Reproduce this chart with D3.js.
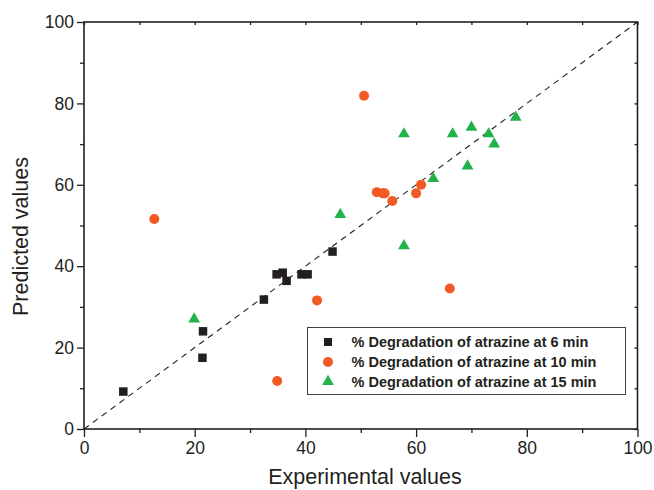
<!DOCTYPE html>
<html>
<head>
<meta charset="utf-8">
<script src="https://cdn.jsdelivr.net/npm/d3@7"></script>
<style>
  body { margin: 0; background: #fff; }
  svg { font-family: "Liberation Sans", Arial, sans-serif; }
</style>
</head>
<body>
<svg id="chart" width="654" height="490"></svg>
<script>
// Datos: valores experimentales (x) y predichos (y) por tiempo de degradación
const exp6 = [7.1, 21.5, 21.4, 32.5, 34.8, 35.9, 36.6, 39.3, 40.4, 44.9];
const pred6 = [9.2, 24.0, 17.5, 31.8, 38.0, 38.4, 36.4, 38.0, 38.0, 43.6];

const exp10 = [12.7, 50.6, 52.9, 54.0, 54.3, 55.7, 60.0, 60.9, 66.1, 42.1, 34.9];
const pred10 = [51.6, 81.9, 58.2, 57.9, 57.9, 56.0, 57.9, 60.0, 34.5, 31.6, 11.8];

const exp15 = [19.9, 46.3, 57.8, 57.8, 63.1, 66.6, 70.0, 69.3, 73.1, 74.1, 78.0];
const pred15 = [27.0, 52.7, 72.5, 45.0, 61.5, 72.5, 74.1, 64.6, 72.5, 70.0, 76.6];

const seriesNames = [
  '% Degradation of atrazine at 6 min',
  '% Degradation of atrazine at 10 min',
  '% Degradation of atrazine at 15 min'
];
const majorTicks = [0, 20, 40, 60, 80, 100];
const minorTicks = [10, 30, 50, 70, 90];

const svg = d3.select('#chart');
const width = +svg.attr('width');
const height = +svg.attr('height');
const margin = { top: 22, right: 16.5, bottom: 61, left: 84 };

const x = d3.scaleLinear().domain([0, 100]).range([margin.left, width - margin.right]);
const y = d3.scaleLinear().domain([0, 100]).range([height - margin.bottom, margin.top]);

const axisColor = '#231f20';

// Línea de referencia y = x (discontinua)
svg.append('line')
  .attr('x1', x(0)).attr('y1', y(0))
  .attr('x2', x(100)).attr('y2', y(100))
  .attr('stroke', '#222')
  .attr('stroke-width', 1.1)
  .attr('stroke-dasharray', '6,5');

// Ejes principales
const axBottom = svg.append('g')
  .attr('transform', `translate(0,${y(0)})`)
  .call(d3.axisBottom(x).tickValues(majorTicks).tickSize(8).tickPadding(5));
const axBottomMinor = svg.append('g')
  .attr('transform', `translate(0,${y(0)})`)
  .call(d3.axisBottom(x).tickValues(minorTicks).tickSize(4).tickFormat(''));
const axLeft = svg.append('g')
  .attr('transform', `translate(${x(0)},0)`)
  .call(d3.axisLeft(y).tickValues(majorTicks).tickSize(7).tickPadding(3));
const axLeftMinor = svg.append('g')
  .attr('transform', `translate(${x(0)},0)`)
  .call(d3.axisLeft(y).tickValues(minorTicks).tickSize(4).tickFormat(''));
const axTop = svg.append('g')
  .attr('transform', `translate(0,${y(100)})`)
  .call(d3.axisBottom(x).tickValues(majorTicks.concat(minorTicks)).tickSize(3).tickFormat(''));
const axRight = svg.append('g')
  .attr('transform', `translate(${x(100)},0)`)
  .call(d3.axisLeft(y).tickValues(majorTicks.concat(minorTicks)).tickSize(3).tickFormat(''));

[axBottom, axBottomMinor, axLeft, axLeftMinor, axTop, axRight].forEach(g => {
  g.select('.domain').remove();
  g.selectAll('line').attr('stroke', axisColor).attr('stroke-width', 1.3);
  g.selectAll('text').attr('fill', '#231f20').style('font-size', '17.5px');
});

// Marco
svg.append('rect')
  .attr('x', x(0)).attr('y', y(100))
  .attr('width', x(100) - x(0)).attr('height', y(0) - y(100))
  .attr('fill', 'none')
  .attr('stroke', axisColor)
  .attr('stroke-width', 1.6);

// Títulos de ejes
svg.append('text')
  .attr('x', 365)
  .attr('y', 484)
  .attr('text-anchor', 'middle')
  .attr('fill', '#231f20')
  .style('font-size', '21.5px')
  .text('Experimental values');

svg.append('text')
  .attr('transform', 'translate(27.5,236.5) rotate(-90)')
  .attr('text-anchor', 'middle')
  .attr('fill', '#231f20')
  .style('font-size', '21.5px')
  .text('Predicted values');

// Marcadores
const black = '#231f20';
const red = '#f15a24';
const green = '#22b24c';

const sq = 8.5;
svg.append('g').selectAll('rect')
  .data(d3.zip(exp6, pred6))
  .join('rect')
  .attr('x', d => x(d[0]) - sq / 2)
  .attr('y', d => y(d[1]) - sq / 2)
  .attr('width', sq).attr('height', sq)
  .attr('fill', black);

svg.append('g').selectAll('circle')
  .data(d3.zip(exp10, pred10))
  .join('circle')
  .attr('cx', d => x(d[0]))
  .attr('cy', d => y(d[1]))
  .attr('r', 5)
  .attr('fill', red);

const tri = d3.symbol().type(d3.symbolTriangle).size(60);
svg.append('g').selectAll('path')
  .data(d3.zip(exp15, pred15))
  .join('path')
  .attr('transform', d => `translate(${x(d[0])},${y(d[1])})`)
  .attr('d', tri)
  .attr('fill', green);

// Leyenda
const legend = svg.append('g');
legend.append('rect')
  .attr('x', 307.5).attr('y', 327.5)
  .attr('width', 318).attr('height', 67)
  .attr('fill', '#fff')
  .attr('stroke', '#444')
  .attr('stroke-width', 1);

const rows = [342, 362, 381.5];
const markerX = 328;
legend.append('rect')
  .attr('x', markerX - 4).attr('y', rows[0] - 4)
  .attr('width', 8).attr('height', 8).attr('fill', black);
legend.append('circle')
  .attr('cx', markerX).attr('cy', rows[1]).attr('r', 5).attr('fill', red);
legend.append('path')
  .attr('transform', `translate(${markerX},${rows[2]})`)
  .attr('d', tri).attr('fill', green);

legend.selectAll('text.lbl')
  .data(seriesNames)
  .join('text')
  .attr('class', 'lbl')
  .attr('x', 351.5)
  .attr('y', (d, i) => rows[i])
  .attr('dy', '0.36em')
  .attr('fill', '#231f20')
  .style('font-size', '14.5px')
  .style('font-weight', 'bold')
  .text(d => d);
</script>
</body>
</html>
